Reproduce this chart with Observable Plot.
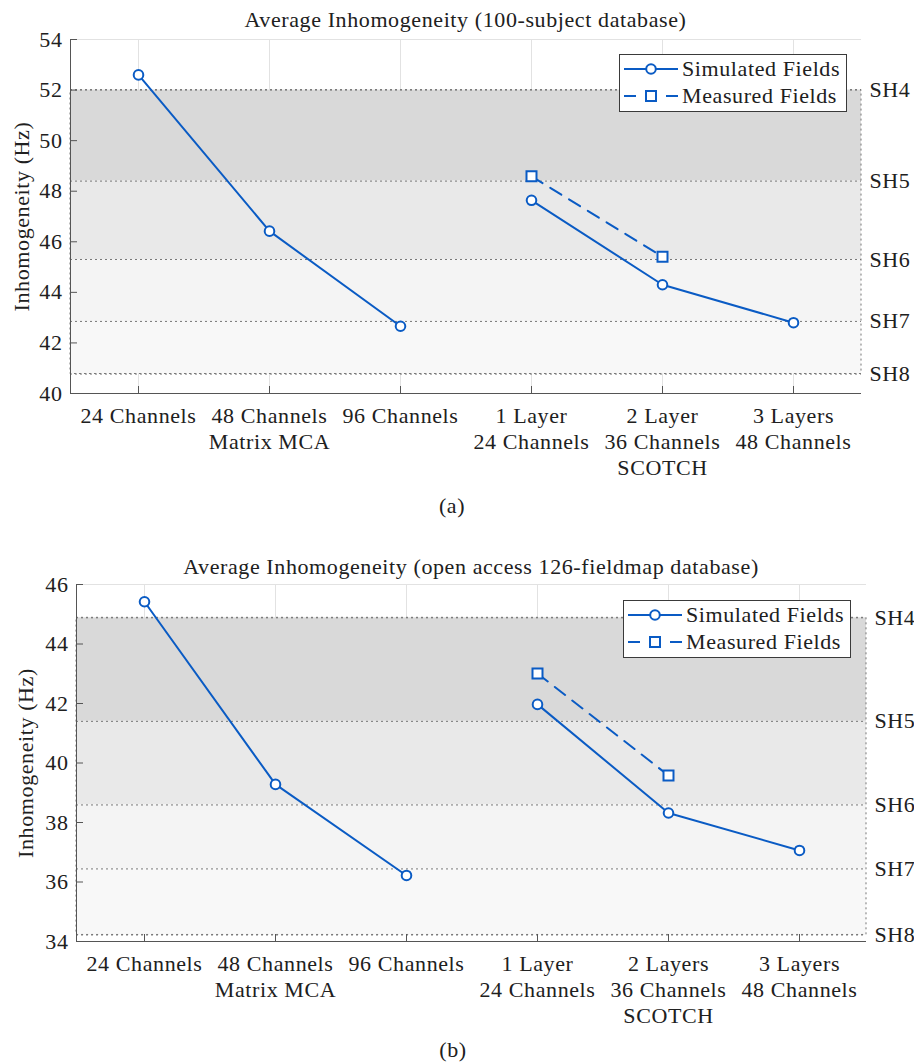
<!DOCTYPE html>
<html>
<head>
<meta charset="utf-8">
<script src="https://cdn.jsdelivr.net/npm/d3@7"></script>
<script src="https://cdn.jsdelivr.net/npm/@observablehq/plot@0.6"></script>
<style>
  body { margin: 0; background: #fff; font-family: "Liberation Serif", "DejaVu Serif", serif; color: #202020; }
  #page { position: relative; width: 914px; height: 1063px; overflow: hidden; }
  .txt { position: absolute; font-size: 22px; line-height: 22px; letter-spacing: 0.6px; white-space: nowrap; transform: translateX(-50%); }
  .panel { position: absolute; left: 0; }
  .legend { position: absolute; background: #fff; border: 1px solid #3a3a3a; box-sizing: border-box; }
  .legend svg { display: block; }
</style>
</head>
<body>
<div id="page"></div>
<script>
// ---- data -------------------------------------------------------------
const labelsA = ["24 Channels", "48 Channels\nMatrix MCA", "96 Channels",
                 "1 Layer\n24 Channels", "2 Layer\n36 Channels\nSCOTCH", "3 Layers\n48 Channels"];
const labelsB = ["24 Channels", "48 Channels\nMatrix MCA", "96 Channels",
                 "1 Layer\n24 Channels", "2 Layers\n36 Channels\nSCOTCH", "3 Layers\n48 Channels"];
const coilGroup = ["Matrix MCA", "Matrix MCA", "Matrix MCA", "SCOTCH", "SCOTCH", "SCOTCH"];

const seriesNames = ["Simulated Fields", "Measured Fields"];

// average inhomogeneity (Hz), 100-subject database
const simulatedA = [52.6, 46.42, 42.66, 47.64, 44.30, 42.80];
const measuredA  = [null, null, null, 48.59, 45.41, null];
// average inhomogeneity (Hz), open access 126-fieldmap database
const simulatedB = [45.42, 39.28, 36.22, 41.97, 38.32, 37.06];
const measuredB  = [null, null, null, 43.01, 39.58, null];

// spherical-harmonic shim reference levels (Hz)
const shNames  = ["SH4", "SH5", "SH6", "SH7", "SH8"];
const shLevelsA = [52.0, 48.4, 45.3, 42.85, 40.77];
const shLevelsB = [44.88, 41.4, 38.59, 36.44, 34.22];

const yDomainA = [40, 54];
const yTicksA  = [40, 42, 44, 46, 48, 50, 52, 54];
const yDomainB = [34, 46];
const yTicksB  = [34, 36, 38, 40, 42, 44, 46];

const titleA = "Average Inhomogeneity (100-subject database)";
const titleB = "Average Inhomogeneity (open access 126-fieldmap database)";

// ---- styling ----------------------------------------------------------
const FONT = "Liberation Serif, DejaVu Serif, serif";
const BLUE = "#0a5bc4";
const bandFills = ["#d9d9d9", "#e9e9e9", "#f4f4f4", "#f8f8f8"];
const DOT = "2,3";

const page = document.getElementById("page");

function addText(str, cx, top) {
  const d = document.createElement("div");
  d.className = "txt";
  d.textContent = str;
  d.style.left = cx + "px";
  d.style.top = top + "px";
  page.appendChild(d);
}

function addLegend(left, top) {
  const w = 228, h = 58;
  const div = document.createElement("div");
  div.className = "legend";
  Object.assign(div.style, {left: left + "px", top: top + "px", width: w + "px", height: h + "px"});
  const svg = d3.create("svg").attr("width", w - 2).attr("height", h - 2)
    .style("font-family", FONT).style("font-size", "22px").style("letter-spacing", "0.6px");
  seriesNames.forEach((name, i) => {
    const g = svg.append("g").attr("transform", `translate(0,${14 + i * 27})`);
    g.append("line").attr("x1", 4).attr("x2", 58)
      .attr("stroke", BLUE).attr("stroke-width", 2)
      .attr("stroke-dasharray", i ? "12,30" : null);
    if (i === 0) {
      g.append("circle").attr("cx", 31).attr("r", 4.8).attr("fill", "#fff").attr("stroke", BLUE).attr("stroke-width", 2);
    } else {
      g.append("rect").attr("x", 26).attr("y", -5).attr("width", 10).attr("height", 10)
        .attr("fill", "#fff").attr("stroke", BLUE).attr("stroke-width", 2);
    }
    g.append("text").attr("x", 62).attr("dy", "0.33em").attr("fill", "#202020").text(name);
  });
  div.appendChild(svg.node());
  page.appendChild(div);
}

function panel({labels, simulated, measured, shLevels, yDomain, yTicks, top, height, plotBottom,
                marginLeft, marginRight, labelOffset}) {
  const rows = labels.map((x, i) => ({x, group: coilGroup[i], value: simulated[i]}));
  const mrows = labels.map((x, i) => ({x, group: coilGroup[i], value: measured[i]}))
                      .filter(d => d.value != null);
  const bands = shLevels.slice(0, -1).map((v, i) => ({y1: shLevels[i + 1], y2: v, i}));
  const shRows = shLevels.map((v, i) => ({v, name: shNames[i]}));

  const chart = Plot.plot({
    width: 914,
    height,
    marginTop: 39,
    marginBottom: height - plotBottom,
    marginLeft,
    marginRight,
    style: {fontFamily: FONT, fontSize: "22px", color: "#202020", background: "transparent", overflow: "visible", letterSpacing: "0.6px"},
    x: {type: "point", domain: labels, padding: 0.5},
    y: {domain: yDomain},
    marks: [
      // vertical grid + top edge
      Plot.ruleX(labels, {stroke: "#e2e2e2", strokeWidth: 1}),
      Plot.ruleY([yDomain[1]], {stroke: "#e2e2e2", strokeWidth: 1}),
      // shaded shim-order bands
      Plot.rect(bands, {y1: "y1", y2: "y2", fill: d => bandFills[d.i]}),
      Plot.ruleY(shRows, {y: "v", stroke: "#777", strokeWidth: 1, strokeDasharray: DOT}),
      Plot.rect([{lo: shLevels[shLevels.length - 1], hi: shLevels[0]}],
                {y1: "lo", y2: "hi", fill: "none", stroke: "#777", strokeWidth: 1, strokeDasharray: DOT}),
      // axes
      Plot.frame({anchor: "left", stroke: "#555"}),
      Plot.ruleY([yDomain[0]], {stroke: "#555", strokeWidth: 1}),
      Plot.axisY({ticks: yTicks, tickSize: -7, fill: "none", stroke: "#555", label: null}),
      Plot.axisY({ticks: yTicks, tickSize: 0, tickPadding: 8, label: "Inhomogeneity (Hz)",
                  labelAnchor: "center", labelOffset, labelArrow: "none", fontFamily: FONT}),
      Plot.axisX({tickSize: -7, fill: "none", stroke: "#555", label: null}),
      Plot.axisX({tickSize: 0, tickPadding: 11, lineHeight: 1.18, label: null, fontFamily: FONT}),
      // shim level labels
      Plot.text(shRows, {y: "v", text: "name", frameAnchor: "right", textAnchor: "start", dx: 8, fontFamily: FONT}),
      // series
      Plot.line(rows, {x: "x", y: "value", z: "group", stroke: BLUE, strokeWidth: 2}),
      Plot.line(mrows, {x: "x", y: "value", z: "group", stroke: BLUE, strokeWidth: 2, strokeDasharray: "13,9"}),
      Plot.dot(rows, {x: "x", y: "value", r: 4.8, fill: "#fff", stroke: BLUE, strokeWidth: 2}),
      Plot.dot(mrows, {x: "x", y: "value", symbol: "square", r: 5.64, fill: "#fff", stroke: BLUE, strokeWidth: 2})
    ]
  });
  chart.classList.add("panel");
  chart.style.top = top + "px";
  page.appendChild(chart);
}

// (a)
panel({labels: labelsA, simulated: simulatedA, measured: measuredA, shLevels: shLevelsA,
       yDomain: yDomainA, yTicks: yTicksA, top: 0, height: 480, plotBottom: 393,
       marginLeft: 70, marginRight: 53, labelOffset: 57});
addText(titleA, 465.5, 9);
addLegend(619, 54);
addText("(a)", 452, 495);

// (b)
panel({labels: labelsB, simulated: simulatedB, measured: measuredB, shLevels: shLevelsB,
       yDomain: yDomainB, yTicks: yTicksB, top: 545, height: 490, plotBottom: 396,
       marginLeft: 76, marginRight: 48, labelOffset: 59});
addText(titleB, 471, 556);
addLegend(623, 600);
addText("(b)", 453, 1039);
</script>
</body>
</html>
